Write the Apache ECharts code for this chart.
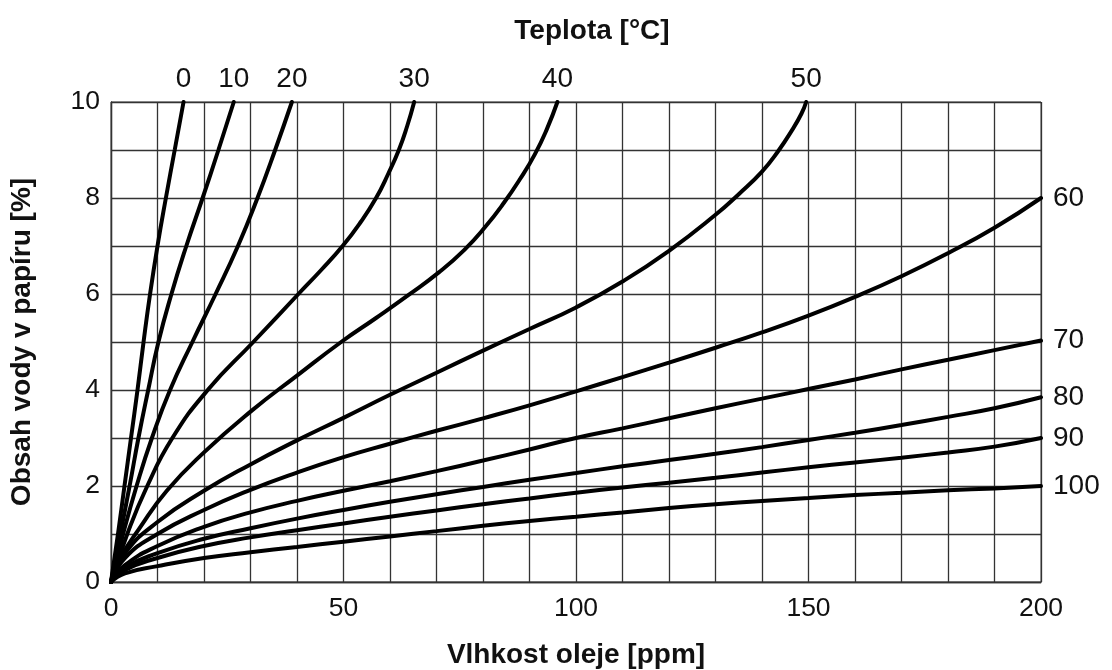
<!DOCTYPE html>
<html>
<head>
<meta charset="utf-8">
<script src="https://cdn.jsdelivr.net/npm/echarts@6/dist/echarts.min.js"></script>
<style>
  html, body { margin: 0; padding: 0; background: #fff; }
  #chart { width: 1112px; height: 670px; }
</style>
</head>
<body>
<div id="chart"></div>
<script>
// Equilibrium water content of paper vs. water content of oil, one curve per temperature
const temperatures = ['0', '10', '20', '30', '40', '50', '60', '70', '80', '90', '100'];

// [ppm in oil, % in paper]
const t0 = [[0,0],[1.5,1],[2.9,2],[4.3,3],[5.7,4],[7.0,5],[8.4,6],[10.0,7],[11.8,8],[13.7,9],[15.6,10]];
const t10 = [[0,0],[2.0,1],[4.0,2],[5.9,3],[8.0,4],[10.2,5],[13.0,6],[16.2,7],[19.7,8],[23.1,9],[26.4,10]];
const t20 = [[0,0],[2.6,1],[5.5,2],[8.8,3],[12.7,4],[17.5,5],[22.5,6],[27.3,7],[31.5,8],[35.3,9],[38.9,10]];
const t30 = [[0,0],[3.5,1],[7.8,2],[13.2,3],[20.8,4],[30.6,5],[40.3,6],[45.2,6.5],[49.8,7],[53.7,7.5],[57.0,8],[59.6,8.5],[61.9,9],[63.7,9.5],[65.2,10]];
const t40 = [[0,0],[2,0.5],[6,1.1],[12,1.9],[20,2.7],[30,3.55],[40,4.3],[49.5,5],[57,5.5],[64,5.98],[70.5,6.45],[76,6.92],[80.5,7.4],[84.5,7.9],[88,8.4],[91.2,8.92],[93.8,9.45],[96,10]];
const t50 = [[0,0],[3,0.6],[10,1.25],[20,1.9],[30,2.45],[40,2.95],[50,3.42],[60,3.9],[70,4.36],[80,4.82],[90,5.27],[100,5.72],[110,6.26],[120,6.9],[130,7.65],[135,8.08],[140,8.55],[143.5,8.98],[146.5,9.42],[148.5,9.76],[149.5,10]];
const t60 = [[0,0],[3,0.5],[10,1.0],[20,1.5],[30,1.92],[40,2.28],[50,2.6],[60,2.88],[70,3.15],[80,3.41],[90,3.68],[100,3.97],[110,4.27],[120,4.57],[130,4.88],[140,5.2],[150,5.55],[160,5.94],[170,6.37],[180,6.85],[190,7.38],[200,8.0]];
const t70 = [[0,0],[3,0.35],[10,0.75],[20,1.15],[30,1.45],[40,1.69],[50,1.9],[60,2.1],[70,2.31],[80,2.53],[90,2.76],[100,3.0],[110,3.2],[120,3.41],[130,3.62],[140,3.82],[150,4.02],[160,4.22],[170,4.43],[180,4.63],[190,4.83],[200,5.03]];
const t80 = [[0,0],[3,0.3],[10,0.6],[20,0.9],[30,1.12],[40,1.32],[50,1.5],[60,1.67],[70,1.83],[80,1.98],[90,2.13],[100,2.27],[110,2.41],[120,2.54],[130,2.67],[140,2.81],[150,2.96],[160,3.11],[170,3.27],[180,3.44],[190,3.62],[200,3.85]];
const t90 = [[0,0],[3,0.25],[10,0.5],[20,0.75],[30,0.93],[40,1.08],[50,1.22],[60,1.36],[70,1.49],[80,1.62],[90,1.74],[100,1.86],[110,1.97],[120,2.07],[130,2.17],[140,2.28],[150,2.39],[160,2.49],[170,2.59],[180,2.7],[190,2.82],[200,3.0]];
const t100 = [[0,0],[3,0.18],[10,0.33],[20,0.5],[30,0.62],[40,0.73],[50,0.84],[60,0.95],[70,1.06],[80,1.17],[90,1.27],[100,1.36],[110,1.45],[120,1.54],[130,1.62],[140,1.69],[150,1.75],[160,1.81],[170,1.86],[180,1.91],[190,1.95],[200,2.0]];

const curves = [t0, t10, t20, t30, t40, t50, t60, t70, t80, t90, t100];

const xLabelStep = 50;   // tick labels on x every 50 ppm, grid every 10
const yLabelStep = 2;    // tick labels on y every 2 %, grid every 1

const FONT = '"Liberation Sans", Arial, sans-serif';
const X_MAX = 200, Y_MAX = 10;

const series = curves.map((pts, i) => {
  const last = pts.length - 1;
  const endsAtTop = pts[last][1] >= Y_MAX;
  return {
    name: temperatures[i],
    type: 'line',
    data: pts,
    smooth: 0.5,
    symbol: 'circle',
    symbolSize: 0,
    showSymbol: true,
    silent: true,
    lineStyle: { color: '#000', width: 4, cap: 'round' },
    itemStyle: { color: '#000' },
    label: {
      show: true,
      position: endsAtTop ? 'top' : 'right',
      distance: endsAtTop ? 9 : 12,
      fontFamily: FONT,
      fontSize: 28,
      color: '#111',
      formatter: p => (p.dataIndex === last ? temperatures[i] : '')
    },
    emphasis: { disabled: true },
    z: 3
  };
});

const nameStyle = { fontFamily: FONT, fontSize: 28, fontWeight: 'bold', color: '#111' };
const gridLine = { show: true, lineStyle: { color: '#333', width: 1.3 } };

const chart = echarts.init(document.getElementById('chart'), null, { renderer: 'canvas' });
chart.setOption({
  animation: false,
  backgroundColor: '#fff',
  title: {
    text: 'Teplota [°C]',
    left: 587,
    textAlign: 'center',
    top: 12,
    textStyle: nameStyle
  },
  grid: {
    left: 111, right: 71, top: 102, bottom: 88,
    containLabel: false, outerBoundsMode: 'none',
    show: true, borderColor: '#444', borderWidth: 1
  },
  xAxis: {
    type: 'value',
    min: 0, max: X_MAX, interval: 10,
    name: 'Vlhkost oleje [ppm]',
    nameLocation: 'middle',
    nameGap: 59,
    nameMoveOverlap: false,
    nameTextStyle: nameStyle,
    axisLine: { show: true, lineStyle: { color: '#333', width: 1.3 } },
    axisTick: { show: false },
    axisLabel: {
      margin: 13, fontFamily: FONT, fontSize: 26.5, color: '#111',
      formatter: v => (v % xLabelStep === 0 ? String(v) : '')
    },
    splitLine: gridLine
  },
  yAxis: {
    type: 'value',
    min: 0, max: Y_MAX, interval: 1,
    name: 'Obsah vody v papíru [%]',
    nameLocation: 'middle',
    nameGap: 75,
    nameMoveOverlap: false,
    nameTextStyle: nameStyle,
    axisLine: { show: true, lineStyle: { color: '#333', width: 1.3 } },
    axisTick: { show: false },
    axisLabel: {
      margin: 11, fontFamily: FONT, fontSize: 26.5, color: '#111',
      formatter: v => (v % yLabelStep === 0 ? String(v) : '')
    },
    splitLine: gridLine
  },
  series
});
</script>
</body>
</html>
